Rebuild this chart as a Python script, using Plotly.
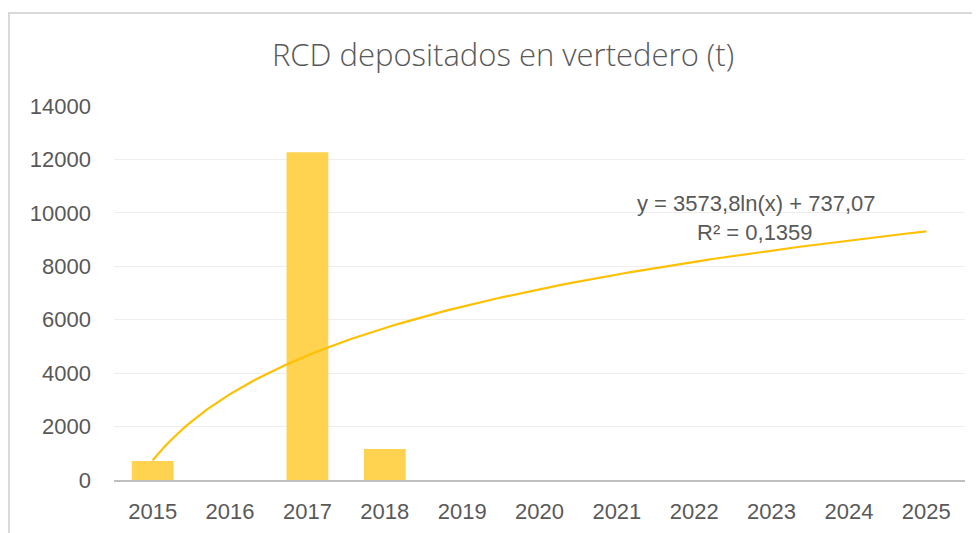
import numpy as np
import plotly.graph_objects as go

years = [2015, 2016, 2017, 2018, 2019, 2020, 2021, 2022, 2023, 2024, 2025]
values = [710, 0, 12270, 1160, 0, 0, 0, 0, 0, 0, 0]
y_ticks = [0, 2000, 4000, 6000, 8000, 10000, 12000, 14000]
y_tick_labels = ["0", "2000", "4000", "6000", "8000", "10000", "12000", "14000"]

# logarithmic trendline as shown on the chart: y = a*ln(x) + b, x = 1..11
trend_a = 3573.8
trend_b = 737.07
trend_text = "y = 3573,8ln(x) + 737,07"
r2_text = "R² = 0,1359"

x_idx = np.linspace(1, len(years), 200)
trend_x = years[0] - 1 + x_idx
trend_y = trend_a * np.log(x_idx) + trend_b

W, H = 980, 533
OFF = 8  # page body margin
# target plot area in screen pixels
SX0, SX1, SY0, SY1 = 114, 965, 106, 480
L = SX0 - OFF
T = SY0 - OFF
R = W - (SX1 - OFF)
B = H - (SY1 - OFF)
PW = SX1 - SX0
PH = SY1 - SY0

def px(xs):
    return (xs - SX0) / PW

def py(ys):
    return (SY1 - ys) / PH

fig = go.Figure()
fig.add_trace(go.Bar(
    x=years, y=values, marker=dict(color="#FFD24F", line=dict(width=0)),
    width=0.54, showlegend=False, hoverinfo="x+y"))
fig.add_trace(go.Scatter(
    x=trend_x, y=trend_y, mode="lines",
    line=dict(color="#FFC000", width=2.2), showlegend=False))

fig.update_layout(
    width=W, height=H,
    margin=dict(l=L, r=R, t=T, b=B, autoexpand=False),
    paper_bgcolor="white", plot_bgcolor="white",
    title=dict(text="RCD depositados en vertedero (t)", x=px(503), xanchor="center",
               xref="paper", y=1 - (55 - OFF) / H, yanchor="middle",
               font=dict(family="Open Sans", size=31, color="#595959", weight=300)),
    font=dict(family="Liberation Sans, Arial", color="#595959"),
    xaxis=dict(range=[2014.5, 2025.5], tickmode="array", tickvals=years,
               ticktext=[str(y) for y in years], showgrid=False,
               showline=True, linecolor="#BFBFBF", linewidth=2,
               ticks="", ticklabelstandoff=11, automargin=False,
               tickfont=dict(size=22, color="#595959"), zeroline=False, fixedrange=True),
    yaxis=dict(range=[0, 14000], tickmode="array", tickvals=y_ticks,
               ticktext=y_tick_labels, automargin=False,
               showgrid=True, gridcolor="#EEEEEE", gridwidth=1,
               zeroline=False, ticks="", ticklabelstandoff=22,
               tickfont=dict(size=22, color="#595959"), fixedrange=True),
    shapes=[
        dict(type="rect", xref="paper", yref="paper",
             x0=px(9), x1=px(1100), y0=py(600), y1=py(13),
             line=dict(color="#D9D9D9", width=2), fillcolor="rgba(0,0,0,0)", layer="below"),
    ],
)

fig.add_annotation(text=trend_text, xref="paper", yref="paper",
                   x=px(756), y=py(203), showarrow=False,
                   xanchor="center", yanchor="middle",
                   font=dict(size=22, color="#595959", family="Liberation Sans, Arial"))
fig.add_annotation(text=r2_text, xref="paper", yref="paper",
                   x=px(755), y=py(232), showarrow=False,
                   xanchor="center", yanchor="middle",
                   font=dict(size=22, color="#595959", family="Liberation Sans, Arial"))

fig.write_html("out.html")
